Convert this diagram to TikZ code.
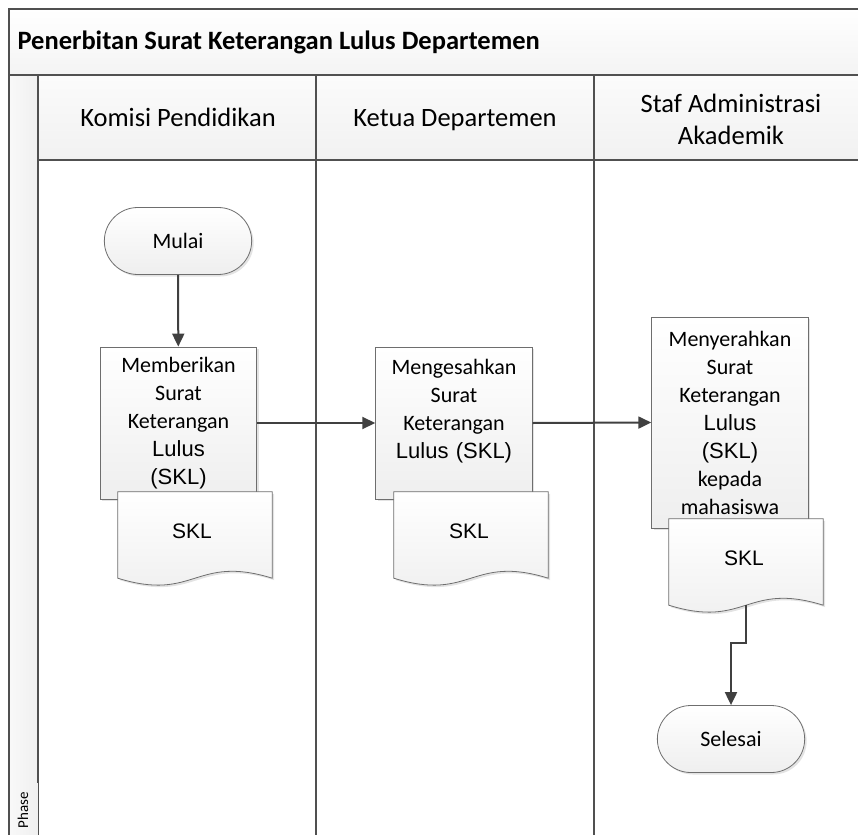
\documentclass[tikz,border=0pt]{standalone}
\usepackage{fontspec}
\setmainfont{Carlito}
\newfontfamily\arialfont{Liberation Sans}
\usetikzlibrary{positioning,calc,arrows.meta,shadows,shapes.misc}
\definecolor{lanegray}{RGB}{80,80,80}
\definecolor{flowgray}{RGB}{64,64,64}
\definecolor{boxedge}{RGB}{110,110,110}
\newcommand*{\boxtxt}{\fontsize{22}{28}\selectfont}
\newcommand*{\headtxt}{\fontsize{26.5}{32}\selectfont}
% outline of a document shape around a (frameless) node
\newcommand*{\docshape}[1]{%
  \draw[docline] (#1.south west) -- (#1.north west) -- (#1.north east) -- (#1.south east)
    .. controls ($(#1.south)+(0,-24)$) and ($(#1.south)+(0,24)$) .. (#1.south west) -- cycle;}
\tikzset{
  lane/.style={draw=lanegray,line width=2.6pt},
  flow/.style={draw=flowgray,line width=2pt,-{Triangle[length=13pt,width=12pt]}},
  shade/.style={drop shadow={shadow xshift=2pt,shadow yshift=-2pt,opacity=0.22}},
  process/.style={draw=boxedge,line width=0.8pt,top color=white,bottom color=gray!13,
    shade,minimum width=154pt,text width=150pt,align=center,font=\boxtxt},
  terminal/.style={rounded rectangle,draw=boxedge,line width=0.8pt,top color=white,
    bottom color=gray!13,shade,minimum width=154pt,minimum height=67pt,font=\boxtxt},
  docnode/.style={minimum width=154pt,minimum height=86pt,inner sep=0pt},
  doctxt/.style={font=\arialfont\fontsize{21}{25}\selectfont},
  docline/.style={draw=boxedge,line width=0.8pt,top color=white,bottom color=gray!13,shade}
}
\begin{document}
\begin{tikzpicture}[x=1pt,y=-1pt]
\useasboundingbox (0,0) rectangle (858,834);
% Pool background: title band, lane headers, phase column
\fill[top color=white,bottom color=gray!9] (9,9) rectangle (862,75);
\fill[top color=gray!3,bottom color=gray!11] (38,75) rectangle (862,160);
\fill[left color=gray!5,right color=gray!12] (9,75) rectangle (38,838);
% Pool frame and lane separators
\draw[lane] (9,838) -- (9,9) -- (862,9);
\draw[lane] (9,75) -- (862,75);
\draw[lane] (38,160) -- (862,160);
\draw[lane] (38,75) -- (38,783);
\draw[draw=lanegray,line width=1pt] (38,783) -- (38,838);
\draw[lane] (316,75) -- (316,838);
\draw[lane] (594,75) -- (594,838);
% Title and lane names
\node[anchor=base west,font=\bfseries\fontsize{26.5}{30}\selectfont] (title) at (14,50)
  {Penerbitan Surat Keterangan Lulus Departemen};
\node[anchor=base,font=\headtxt] (komisi) at (178,127) {Komisi Pendidikan};
\node[anchor=base,font=\headtxt] (ketua) at (455,127) {Ketua Departemen};
\node[font=\headtxt,align=center] (staf) at (731,119) {Staf Administrasi\\Akademik};
\node[rotate=90,anchor=west,font=\fontsize{15}{17}\selectfont] (phase) at (23,832) {Phase};
% Flow nodes
\node[terminal] (mulai) at (178,241) {Mulai};
\node[process,minimum height=152pt] (beri) at (178.5,423)
  {Memberikan\\Surat\\Keterangan\\{\arialfont Lulus}\\{\arialfont (SKL)}};
\node[docnode] (skl1) at (195,535) {};
\docshape{skl1}
\node[doctxt] at ($(skl1)+(-3,-4)$) {SKL};
\node[process,minimum height=152pt] (sahkan) at (454,423)
  {Mengesahkan\\Surat\\Keterangan\\{\arialfont Lulus (SKL)}\\\mbox{}};
\node[docnode] (skl2) at (471,535) {};
\docshape{skl2}
\node[doctxt] at ($(skl2)+(-2,-4)$) {SKL};
\node[process,minimum height=211pt] (serah) at (730,422.5)
  {Menyerahkan\\Surat\\Keterangan\\{\arialfont Lulus}\\{\arialfont (SKL)}\\kepada\\mahasiswa};
\node[docnode] (skl3) at (746,562) {};
\docshape{skl3}
\node[doctxt] at ($(skl3)+(-2,-4)$) {SKL};
\node[terminal] (selesai) at (731,739) {Selesai};
% Connectors
\draw[flow] (mulai) -- (beri);
\draw[flow] (beri.east) -- (sahkan.west);
\draw[flow] (sahkan.east) -- (serah.west);
\draw[flow] (skl3.south) -- ($(skl3.south)+(0,38)$) -| (selesai.north);
\end{tikzpicture}
\end{document}
